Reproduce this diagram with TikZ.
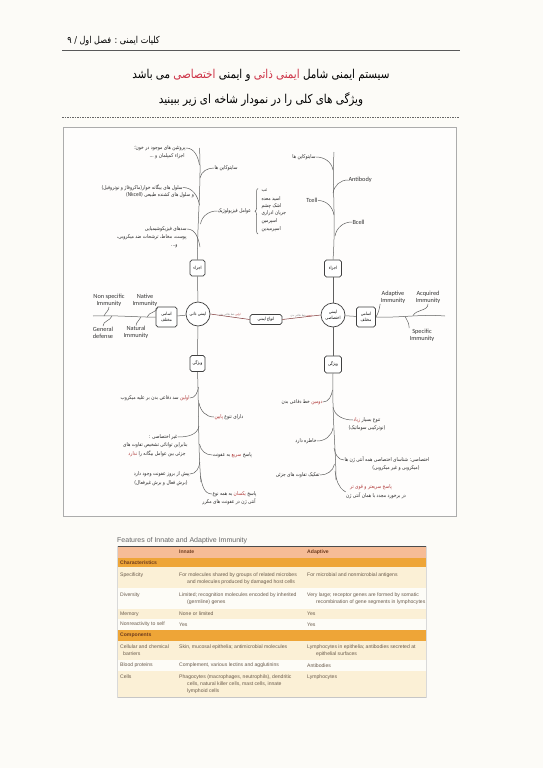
\documentclass[tikz,border=0pt]{standalone}
\usepackage{fontspec}
\usetikzlibrary{decorations.pathreplacing}
\TeXXeTstate=1
\newfontfamily\fa[Script=Arabic,FakeStretch=0.85]{DejaVu Sans}
\newfontfamily\enf{Carlito}
\newfontfamily\tbf{Liberation Sans}
\definecolor{pagebg}{RGB}{252,251,247}
\definecolor{tred}{RGB}{205,50,70}
\definecolor{dred}{RGB}{175,55,55}
\definecolor{lnc}{RGB}{95,95,95}
\definecolor{peach}{RGB}{246,188,150}
\definecolor{orng}{RGB}{238,165,55}
\definecolor{cream}{RGB}{251,240,214}
\definecolor{wrow}{RGB}{253,252,247}
\definecolor{ttxt}{RGB}{105,90,75}
\definecolor{thd}{RGB}{110,60,30}
\newcommand{\rl}[1]{\beginR #1\endR}
\newcommand{\rd}[1]{\textcolor{dred}{\beginR #1\endR}}
\newcommand{\trd}[1]{\textcolor{tred}{\beginR #1\endR}}
\tikzset{
  br/.style={draw=lnc, line width=0.5pt},
  tl/.style={inner sep=0.3pt, font=\fa\fontsize{5.2}{6}\selectfont, text=black!85},
  en/.style={inner sep=0.3pt, font=\enf\fontsize{6.3}{7.3}\selectfont, text=black!80, align=center},
  bx/.style={draw=black!75, line width=0.7pt, rounded corners=1.8pt, fill=white, inner sep=0.5pt,
     font=\fa\fontsize{4.4}{5.6}\selectfont, align=center},
  circ/.style={circle, draw=black!75, line width=0.7pt, fill=white, minimum size=24pt, inner sep=0pt,
     font=\fa\fontsize{4.4}{5.6}\selectfont, align=center},
  tt/.style={inner sep=0pt, anchor=west, font=\tbf\fontsize{5.1}{6.2}\selectfont, text=ttxt},
  tb/.style={inner sep=0pt, anchor=west, font=\tbf\bfseries\fontsize{5.1}{6.2}\selectfont, text=thd},
}
\begin{document}
\begin{tikzpicture}[x=1pt,y=1pt]
\useasboundingbox (0,0) rectangle (543,-768);
\fill[pagebg] (0,0) rectangle (543,-768);

% header
\node[anchor=east, inner sep=0pt, font=\fa\fontsize{9.5}{11}\selectfont] (hdr) at (160,-41.5) {\rl{کلیات ایمنی : فصل اول / ۹}};
\coordinate (hl1) at (62,-50); \coordinate (hl2) at (460,-50);
\draw[gray!70!black, line width=0.8pt] (hl1) -- (hl2);
\node[inner sep=0pt, font=\fa\fontsize{12.2}{14}\selectfont] (ttl1) at (261,-75) {\rl{می باشد} \trd{اختصاصی} \rl{و ایمنی} \trd{ایمنی ذاتی} \rl{سیستم ایمنی شامل}};
\node[inner sep=0pt, font=\fa\fontsize{12.2}{14}\selectfont] (ttl2) at (261,-100) {\rl{ویژگی های کلی را در نمودار شاخه ای زیر ببینید}};
\coordinate (dl1) at (62,-117.5); \coordinate (dl2) at (459,-117.5);
\draw[gray!80!black, line width=0.5pt, dash pattern=on 1.5pt off 1pt] (dl1) -- (dl2);

% frame
\draw[gray!65, line width=1.6pt, fill=white!60!pagebg] (63.5,-127.5) rectangle (456.5,-516.5);

% ===== central nodes
\node[circ] (LC) at (198,-314) {\rl{ایمنی ذاتی}};
\node[circ] (RC) at (333,-315) {\rl{ایمنی}\\\rl{اختصاصی}};
\node[bx, minimum width=32pt, minimum height=10pt] (CB) at (266,-319.5) {\rl{انواع ایمنی}};
\node[bx, minimum width=15pt, minimum height=16pt] (LA) at (197.5,-268) {\rl{اجزاء}};
\node[bx, minimum width=15pt, minimum height=16pt] (LV) at (197.5,-363.5) {\rl{ویژگی}};
\node[bx, minimum width=21pt, minimum height=20pt] (LN) at (166.5,-317) {\rl{اسامی}\\\rl{مختلف}};
\node[bx, minimum width=17pt, minimum height=17pt] (RA) at (333,-268.5) {\rl{اجزاء}};
\node[bx, minimum width=17pt, minimum height=17pt] (RV) at (333,-364.5) {\rl{ویژگی}};
\node[bx, minimum width=19pt, minimum height=20pt] (RN) at (366,-317) {\rl{اسامی}\\\rl{مختلف}};

\draw[br] (LC) -- (LA); \draw[br] (LC) -- (LV); \draw[br] (LC) -- (LN);
\draw[br] (RC) -- (RA); \draw[br] (RC) -- (RV); \draw[br] (RC) -- (RN);
\draw[br, draw=gray!60!red!70!black] (LC.east) -- (CB.west) node[midway, above=-0.3pt, inner sep=0.5pt, font=\fa\fontsize{2.8}{3.2}\selectfont, text=gray] {\rl{خط دفاعی بدن} \rd{اولین}};
\draw[br, draw=gray!60!red!70!black] (RC.west) -- (CB.east) node[midway, above=-0.3pt, inner sep=0.5pt, font=\fa\fontsize{2.8}{3.2}\selectfont, text=gray] {\rl{خط دفاعی بدن} \rd{دومین}};

% ===== left upper tree
\coordinate (LUtop) at (199.5,-148);
\draw[br] (LA.north) .. controls (197,-225) and (201.5,-185) .. (LUtop);
\node[tl, anchor=east] (a1) at (186,-148) {\rl{پروتئین های موجود در خون؛}};
\node[tl, anchor=east] (a1b) at (185,-156.5) {\rl{اجزاء کمپلمان و ...}};
\node[tl, anchor=west] (a2) at (214,-168) {\rl{سایتوکاین ها}};
\node[tl, anchor=east] (a3) at (183,-187.5) {\rl{سلول های بیگانه خوار(ماکروفاژ و نوتروفیل)}};
\node[tl] (a3b) at (160,-195.5) {\rl{و سلول های کشنده طبیعی \beginL(Nkcell)\endL}};
\node[tl, anchor=west] (a4) at (217,-211) {\rl{عوامل فیزیولوژیک}};
\node[tl, anchor=east] (a5) at (187,-229) {\rl{سدهای فیزیکوشیمیایی}};
\node[tl, anchor=east] (a5b) at (187,-237.5) {\rl{پوست، مخاط، ترشحات ضد میکروبی،}};
\node[tl, anchor=east] (a5c) at (178,-246) {\rl{و...}};
\coordinate (p1) at (199.5,-165); \coordinate (p2) at (200,-178);
\coordinate (p3) at (199.5,-205); \coordinate (p4) at (200.5,-224);
\coordinate (p5) at (200,-247);
\draw[br] (p1) to[out=100,in=0] (a1.east);
\draw[br] (p2) to[out=80,in=180] (a2.west);
\draw[br] (p3) to[out=100,in=0] (a3.east);
\draw[br] (p4) to[out=80,in=180] (a4.west);
\draw[br] (p5) to[out=100,in=0] (a5.east);
% brace list
\coordinate (brb) at (258,-234); \coordinate (brt) at (258,-188.5);
\draw[br, decorate, decoration={brace, amplitude=3pt}] (brb) -- (brt);
\node[tl, anchor=west] (f1) at (261,-191) {\rl{تب}};
\node[tl, anchor=west] (f2) at (261,-198.5) {\rl{اسید معده}};
\node[tl, anchor=west] (f3) at (261,-206) {\rl{اشک چشم}};
\node[tl, anchor=west] (f4) at (261,-213.5) {\rl{جریان ادراری}};
\node[tl, anchor=west] (f5) at (261,-221.5) {\rl{اسپرمین}};
\node[tl, anchor=west] (f6) at (261,-229.5) {\rl{اسپرمیدین}};

% ===== right upper tree
\coordinate (RUtop) at (334,-152);
\draw[br] (RA.north) .. controls (336,-220) and (332,-185) .. (RUtop);
\node[tl, anchor=east] (b1) at (316,-157) {\rl{سایتوکاین ها}};
\node[en, anchor=west] (b2) at (348,-180) {Antibody};
\node[en, anchor=east] (b3) at (318,-200.5) {Tcell};
\node[en, anchor=west] (b4) at (352,-222) {Bcell};
\coordinate (q1) at (333,-170); \coordinate (q2) at (333,-193);
\coordinate (q3) at (334,-215); \coordinate (q4) at (335,-236);
\draw[br] (q1) to[out=100,in=0] (b1.east);
\draw[br] (q2) to[out=80,in=180] (b2.west);
\draw[br] (q3) to[out=100,in=0] (b3.east);
\draw[br] (q4) to[out=80,in=180] (b4.west);

% ===== left lower tree
\coordinate (LLbot) at (201,-482);
\draw[br] (LV.south) .. controls (199,-410) and (198,-450) .. (LLbot);
\node[tl, anchor=east] (c1) at (190,-398) {\rl{سد دفاعی بدن بر علیه میکروب} \rd{اولین}};
\node[tl, anchor=west] (c2) at (214,-417) {\rd{پایین} \rl{دارای تنوع}};
\node[tl, anchor=east] (c3) at (178,-437) {\rl{غیر اختصاصی :}};
\node[tl, anchor=east] (c3b) at (188,-445.5) {\rl{بنابراین توانائی تشخیص تفاوت های}};
\node[tl, anchor=east] (c3c) at (186,-454) {\rd{ندارد} \rl{جزئی بین عوامل بیگانه را}};
\node[tl, anchor=west] (c4) at (212,-455) {\rl{به عفونت} \rd{سریع} \rl{پاسخ}};
\node[tl, anchor=east] (c5) at (190,-474) {\rl{پیش از بروز عفونت وجود دارد}};
\node[tl, anchor=east] (c5b) at (188,-483) {\rl{(برش فعال و برش غیرفعال)}};
\node[tl, anchor=west] (c6) at (212,-494) {\rl{به همه نوع} \rd{یکسان} \rl{پاسخ}};
\node[tl] (c6b) at (229,-501.5) {\rl{آنتی ژن در عفونت های مکرر}};
\coordinate (r1) at (198.5,-387); \coordinate (r2) at (199,-403);
\coordinate (r3) at (199,-426); \coordinate (r4) at (199.5,-444);
\coordinate (r5) at (200,-462); \coordinate (r6) at (200.5,-476);
\draw[br] (r1) to[out=260,in=0] (c1.east);
\draw[br] (r2) to[out=280,in=180] (c2.west);
\draw[br] (r3) to[out=260,in=0] (c3.east);
\draw[br] (r4) to[out=280,in=180] (c4.west);
\draw[br] (r5) to[out=260,in=0] (c5.east);
\draw[br] (r6) to[out=280,in=180] (c6.west);

% ===== right lower tree
\coordinate (RLbot) at (336,-480);
\draw[br] (RV.south) .. controls (332,-420) and (336,-450) .. (RLbot);
\node[tl, anchor=east] (d1) at (323,-402) {\rl{خط دفاعی بدن} \rd{دومین}};
\node[tl, anchor=west] (d2) at (353,-420) {\rd{زیاد} \rl{تنوع بسیار}};
\node[tl] (d2b) at (367,-428) {\rl{(نوترکیبی سوماتیک)}};
\node[tl, anchor=east] (d3) at (317,-441) {\rl{خاطره دارد}};
\node[tl, anchor=west] (d4) at (344,-460) {\rl{اختصاصی: شناسای اختصاصی همه آنتی ژن ها}};
\node[tl] (d4b) at (396,-468) {\rl{(میکروبی و غیر میکروبی)}};
\node[tl, anchor=east] (d5) at (320,-475) {\rl{تفکیک تفاوت های جزئی}};
\node[tl, text=dred] (d6) at (371,-487) {\rl{پاسخ سریعتر و قوی تر}};
\node[tl] (d6b) at (376,-495.5) {\rl{در برخورد مجدد  با همان آنتی ژن}};
\coordinate (s1) at (332.5,-390); \coordinate (s2) at (333,-407);
\coordinate (s3) at (333,-428); \coordinate (s4) at (334,-448);
\coordinate (s5) at (334.5,-464); \coordinate (s6) at (335,-471);
\draw[br] (s1) to[out=260,in=0] (d1.east);
\draw[br] (s2) to[out=280,in=180] (d2.west);
\draw[br] (s3) to[out=260,in=0] (d3.east);
\draw[br] (s4) to[out=280,in=180] (d4.west);
\draw[br] (s5) to[out=260,in=0] (d5.east);
\draw[br] (s6) to[out=280,in=150] (d6b.north west);

% ===== left names
\coordinate (LNend) at (93,-316);
\draw[br] (LN.west) .. controls (140,-317.5) and (115,-315) .. (LNend);
\node[en] (e1) at (109,-300) {Non specific\\Immunity};
\node[en] (e2) at (145,-300) {Native\\Immunity};
\node[en] (e3) at (103,-332.5) {General\\defense};
\node[en] (e4) at (136,-332.5) {Natural\\Immunity};
\coordinate (u1) at (104,-316); \coordinate (u2) at (147,-317);
\coordinate (u3) at (112,-316); \coordinate (u4) at (141,-317);
\draw[br] (u1) to[out=70,in=-90] (e1.south);
\draw[br] (u2) to[out=70,in=-90] (e2.south east);
\draw[br] (u3) to[out=250,in=90] (e3.north);
\draw[br] (u4) to[out=250,in=90] (e4.north);

% ===== right names
\coordinate (RNend) at (445,-316);
\draw[br] (RN.east) .. controls (400,-318) and (420,-314) .. (RNend);
\node[en] (g1) at (393,-297) {Adaptive\\Immunity};
\node[en] (g2) at (428,-297) {Acquired\\Immunity};
\node[en] (g3) at (422,-335) {Specific\\Immunity};
\coordinate (v1) at (376,-317); \coordinate (v2) at (413,-315.5);
\coordinate (v3) at (405,-316.5);
\draw[br] (v1) to[out=60,in=-100] (g1.south west);
\draw[br] (v2) to[out=60,in=-90] (g2.south);
\draw[br] (v3) to[out=-60,in=90] (g3.north west);

% ===== table
\node[inner sep=0pt, anchor=west, font=\tbf\fontsize{7}{8}\selectfont, text=black!60] (tcap) at (117,-540.5) {Features of Innate and Adaptive Immunity};
\fill[peach] (117,-546) rectangle (426,-558);
\fill[orng] (117,-558) rectangle (426,-567);
\fill[cream] (117,-567) rectangle (426,-588);
\fill[wrow] (117,-588) rectangle (426,-609);
\fill[cream] (117,-609) rectangle (426,-619);
\fill[wrow] (117,-619) rectangle (426,-629.5);
\fill[orng] (117,-629.5) rectangle (426,-641);
\fill[cream] (117,-641) rectangle (426,-660);
\fill[wrow] (117,-660) rectangle (426,-670.5);
\fill[cream] (117,-670.5) rectangle (426,-697);
\draw[black!70, line width=0.9pt] (117,-546) -- (426,-546);
\draw[gray!45, line width=0.8pt] (117,-697.5) -- (426,-697.5);
\draw[gray!30, line width=0.4pt] (117,-546) -- (117,-697.5) (426,-546) -- (426,-697.5);

\node[tb] (h1) at (179,-552) {Innate};
\node[tb] (h2) at (307,-552) {Adaptive};
\node[tb] (h3) at (120,-562.5) {Characteristics};
\node[tt] (r1a) at (120,-575.5) {Specificity};
\node[tt] (r1b) at (179,-575.5) {For molecules shared by groups of related microbes};
\node[tt] (r1c) at (187,-582.5) {and molecules produced by damaged host cells};
\node[tt] (r1d) at (307,-575.5) {For microbial and nonmicrobial antigens};
\node[tt] (r2a) at (120,-595) {Diversity};
\node[tt] (r2b) at (179,-595) {Limited; recognition molecules encoded by inherited};
\node[tt] (r2c) at (187,-602) {(germline) genes};
\node[tt] (r2d) at (307,-595) {Very large; receptor genes are formed by somatic};
\node[tt] (r2e) at (316,-602) {recombination of gene segments in lymphocytes};
\node[tt] (r3a) at (120,-614) {Memory};
\node[tt] (r3b) at (179,-614) {None or limited};
\node[tt] (r3c) at (307,-614) {Yes};
\node[tt] (r4a) at (120,-624.3) {Nonreactivity to self};
\node[tt] (r4b) at (179,-624.3) {Yes};
\node[tt] (r4c) at (307,-624.3) {Yes};
\node[tb] (h4) at (120,-635.3) {Components};
\node[tt] (r5a) at (120,-647) {Cellular and chemical};
\node[tt] (r5b) at (123,-654) {barriers};
\node[tt] (r5c) at (179,-647) {Skin, mucosal epithelia; antimicrobial molecules};
\node[tt] (r5d) at (307,-647) {Lymphocytes in epithelia; antibodies secreted at};
\node[tt] (r5e) at (316,-654) {epithelial surfaces};
\node[tt] (r6a) at (120,-665.3) {Blood proteins};
\node[tt] (r6b) at (179,-665.3) {Complement, various lectins and agglutinins};
\node[tt] (r6c) at (307,-665.3) {Antibodies};
\node[tt] (r7a) at (120,-677) {Cells};
\node[tt] (r7b) at (179,-677) {Phagocytes (macrophages, neutrophils), dendritic};
\node[tt] (r7c) at (187,-684) {cells, natural killer cells, mast cells, innate};
\node[tt] (r7d) at (187,-691) {lymphoid cells};
\node[tt] (r7e) at (307,-677) {Lymphocytes};
\end{tikzpicture}
\end{document}
